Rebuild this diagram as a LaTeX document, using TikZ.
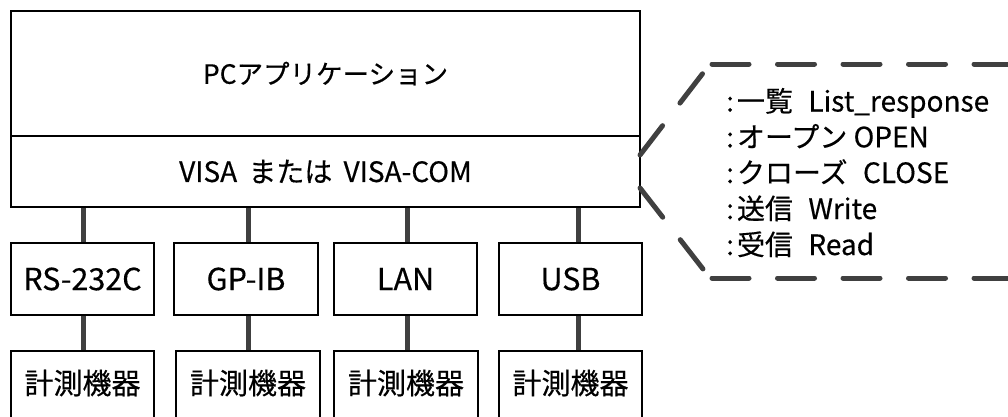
\documentclass[tikz,border=0pt]{standalone}
\usepackage{fontspec}
\setmainfont{Noto Sans CJK JP}[FakeBold=0.4]
\definecolor{linkgray}{HTML}{404040}
\begin{document}
\begin{tikzpicture}[x=1pt,y=-1pt,
  box/.style={draw=black, line width=1.3pt, inner sep=0pt, font=\fontsize{30.5}{34}\selectfont},
  inst/.style={box, anchor=base, text height=43pt, text depth=60pt, inner ysep=0pt, font=\fontsize{29}{34}\selectfont},
  link/.style={draw=linkgray, line width=5pt},
  callout/.style={draw=linkgray, line width=5pt, line cap=round, dash pattern=on 37pt off 28.5pt},
  note/.style={anchor=base west, inner sep=0pt, font=\fontsize{28}{32}\selectfont}]
\useasboundingbox (0,0) rectangle (1008,416);
% main boxes
\node[box, minimum width=629pt, minimum height=125pt, font=\fontsize{26.5}{30}\selectfont] (app) at (325.5,73.5) {PCアプリケーション};
\node[box, minimum width=629pt, minimum height=71pt, font=\fontsize{28}{30}\selectfont] (visa) at (325.5,171.5) {VISA\hspace{0.4em}または\hspace{0.4em}VISA-COM};
% interface boxes
\node[box, minimum width=143pt, minimum height=72pt] (rs) at (82.5,279) {RS-232C};
\node[box, minimum width=144pt, minimum height=72pt] (gp) at (246,279) {GP-IB};
\node[box, minimum width=143pt, minimum height=72pt] (lan) at (405.5,279) {LAN};
\node[box, minimum width=143pt, minimum height=72pt] (usb) at (570.5,279) {USB};
% instrument boxes
\node[inst, minimum width=143pt] (m1) at (82.5,394) {計測機器};
\node[inst, minimum width=144pt] (m2) at (248,394) {計測機器};
\node[inst, minimum width=144pt] (m3) at (406,394) {計測機器};
\node[inst, minimum width=143pt] (m4) at (570.5,394) {計測機器};
% connectors
\coordinate (k1) at (83,0);
\coordinate (k2) at (248,0);
\coordinate (k3) at (407,0);
\coordinate (k4) at (578,0);
\foreach \k/\i/\m in {k1/rs/m1, k2/gp/m2, k3/lan/m3, k4/usb/m4}{
  \draw[link] (\k |- visa.south) -- (\k |- \i.north);
  \draw[link] (\k |- \i.south) -- (\k |- \m.north);
}
% callout
\coordinate (tip1) at (640,155);
\coordinate (tip2) at (640,188);
\coordinate (ctl) at (710,64);
\coordinate (cbl) at (710,278);
\coordinate (htl) at (712,64);
\coordinate (hbl) at (712,278);
\coordinate (ctr) at (1040,64);
\coordinate (cbr) at (1040,278);
\draw[callout] (tip1) -- (ctl);
\draw[callout] (tip2) -- (cbl);
\draw[callout] (htl) -- (ctr);
\draw[callout] (hbl) -- (cbr);
% callout text
\node[note] (n1) at (726,111.5) {:\kern3pt 一覧\hspace{0.55em}List\_response};
\node[note] (n2) at (726,147.3) {:\kern3pt オープン OPEN};
\node[note] (n3) at (726,183) {:\kern3pt クローズ\hspace{0.55em}CLOSE};
\node[note] (n4) at (726,219) {:\kern3pt 送信\hspace{0.55em}Write};
\node[note] (n5) at (726,255) {:\kern3pt 受信\hspace{0.55em}Read};
\end{tikzpicture}
\end{document}
